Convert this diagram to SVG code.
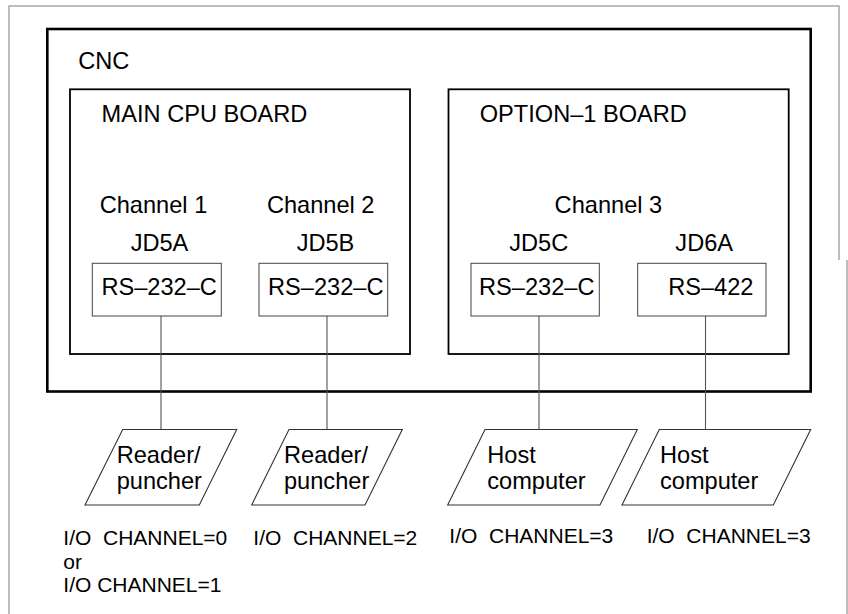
<svg xmlns="http://www.w3.org/2000/svg" width="848" height="614" viewBox="0 0 848 614">
<style>
  text { font-family: "Liberation Sans", Arial, sans-serif; fill: #000; }
  .lbl { font-size: 23.6px; }
  .mid { text-anchor: middle; }
  .io { font-size: 21px; white-space: pre; }
  .frame { fill: none; stroke: #a8a8a8; stroke-width: 1.5; }
  .cnc { fill: none; stroke: #000; stroke-width: 2.6; }
  .board { fill: none; stroke: #000; stroke-width: 1.8; }
  .port { fill: #fff; stroke: #444; stroke-width: 1; }
  .dev { fill: #fff; stroke: #333; stroke-width: 1.1; }
  .wire { stroke: #555; stroke-width: 1.1; fill: none; }
</style>
<rect width="848" height="614" fill="#fff"/>
<g id="frame">
  <polyline class="frame" points="9,614 9,6 839,6 839,260"/>
  <line class="frame" x1="847" y1="260" x2="847" y2="614"/>
</g>
<g id="cnc">
  <rect class="cnc" x="47.3" y="29" width="763.4" height="362.5"/>
  <text class="lbl" x="78.3" y="69">CNC</text>
</g>
<g id="main-cpu-board">
  <rect class="board" x="70" y="89.3" width="340" height="264.7"/>
  <text class="lbl mid" x="204.5" y="121.7">MAIN CPU BOARD</text>
  <text class="lbl mid" x="153.5" y="212.7">Channel 1</text>
  <text class="lbl mid" x="320.7" y="212.7">Channel 2</text>
</g>
<g id="option-1-board">
  <rect class="board" x="448.5" y="89.3" width="340.2" height="264.7"/>
  <text class="lbl mid" x="583.3" y="121.7">OPTION–1 BOARD</text>
  <text class="lbl mid" x="608.4" y="212.7">Channel 3</text>
</g>
<g id="connectors">
  <line class="wire" x1="161" y1="316" x2="161" y2="429.5"/>
  <line class="wire" x1="327" y1="316" x2="327" y2="429.5"/>
  <line class="wire" x1="539" y1="316" x2="539" y2="429.5"/>
  <line class="wire" x1="705.5" y1="316" x2="705.5" y2="429.5"/>
</g>
<g id="jd5a">
  <text class="lbl mid" x="159.5" y="250.7">JD5A</text>
  <rect class="port" x="92.3" y="263.3" width="129" height="52.7"/>
  <text class="lbl mid" x="159.2" y="295">RS–232–C</text>
</g>
<g id="jd5b">
  <text class="lbl mid" x="325.5" y="250.7">JD5B</text>
  <rect class="port" x="259" y="263.3" width="128.7" height="52.7"/>
  <text class="lbl mid" x="325.8" y="295">RS–232–C</text>
</g>
<g id="jd5c">
  <text class="lbl mid" x="538.7" y="250.7">JD5C</text>
  <rect class="port" x="471" y="263.3" width="128.3" height="52.7"/>
  <text class="lbl mid" x="536.8" y="295">RS–232–C</text>
</g>
<g id="jd6a">
  <text class="lbl mid" x="704.2" y="250.7">JD6A</text>
  <rect class="port" x="637.7" y="263.3" width="128.3" height="52.7"/>
  <text class="lbl mid" x="710.8" y="295">RS–422</text>
</g>
<g id="reader-puncher-1">
  <polygon class="dev" points="122.7,429.5 236.7,429.5 199.3,505 85,505"/>
  <text class="lbl" x="116.7" y="463.3">Reader/</text>
  <text class="lbl" x="116.7" y="489.3">puncher</text>
</g>
<g id="reader-puncher-2">
  <polygon class="dev" points="289,429.5 402.3,429.5 365,505 251.7,505"/>
  <text class="lbl" x="284" y="463.3">Reader/</text>
  <text class="lbl" x="284" y="489.3">puncher</text>
</g>
<g id="host-computer-1">
  <polygon class="dev" points="485,429.5 637.3,429.5 600,505 447.7,505"/>
  <text class="lbl" x="487.3" y="462.7">Host</text>
  <text class="lbl" x="487.3" y="489.3">computer</text>
</g>
<g id="host-computer-2">
  <polygon class="dev" points="659.3,429.5 810.7,429.5 773.3,505 622,505"/>
  <text class="lbl" x="660" y="462.7">Host</text>
  <text class="lbl" x="660" y="489.3">computer</text>
</g>
<g id="io-labels">
  <text class="io" x="63.3" y="545">I/O  CHANNEL=0</text>
  <text class="io" x="63.3" y="569">or</text>
  <text class="io" x="63.3" y="592.3">I/O CHANNEL=1</text>
  <text class="io" x="253.3" y="545">I/O  CHANNEL=2</text>
  <text class="io" x="449.3" y="543.3">I/O  CHANNEL=3</text>
  <text class="io" x="646.7" y="543.3">I/O  CHANNEL=3</text>
</g>
</svg>
